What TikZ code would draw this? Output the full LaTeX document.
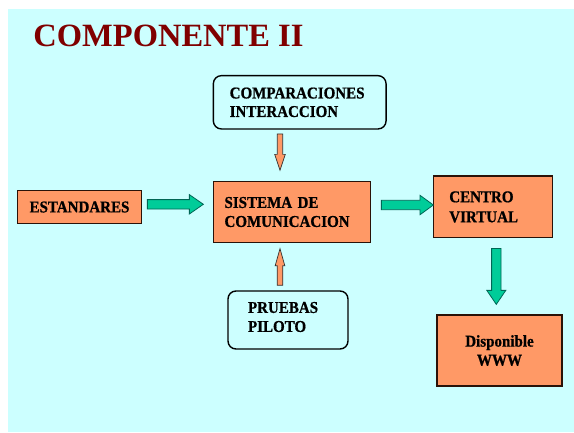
\documentclass[tikz,border=0pt]{standalone}
\usepackage{fontspec}
\setmainfont{Liberation Serif}
\newfontfamily\boxfont[FakeStretch=0.91,FakeBold=0.8]{Liberation Serif}
\usetikzlibrary{calc}
\definecolor{bgcyan}{HTML}{CCFFFF}
\definecolor{boxorange}{HTML}{FF9966}
\definecolor{arrgreen}{HTML}{00CC99}
\definecolor{arredge}{HTML}{006655}
\definecolor{titlered}{HTML}{800000}
\definecolor{boxedge}{HTML}{2A1208}
\newcommand\blockarr[6]{% start, end, shaft half, head half, head length, style
  \draw[#6] ($(#1)!#3pt!90:(#2)$)
    -- ($($(#2)!#5pt!(#1)$)!#3pt!-90:(#1)$)
    -- ($($(#2)!#5pt!(#1)$)!#4pt!-90:(#1)$)
    -- (#2)
    -- ($($(#2)!#5pt!(#1)$)!#4pt!90:(#1)$)
    -- ($($(#2)!#5pt!(#1)$)!#3pt!90:(#1)$)
    -- ($(#1)!#3pt!-90:(#2)$) -- cycle;}
\begin{document}
\begin{tikzpicture}[x=1pt,y=-1pt,
  txt/.style={font=\boxfont\fontsize{16.5}{19}\selectfont\bfseries},
  sqbox/.style={txt,draw=boxedge,line width=1.3pt,fill=boxorange,anchor=center,inner ysep=0pt},
  rbox/.style={txt,draw=black,line width=1.4pt,rounded corners=8pt,fill=bgcyan,anchor=center,inner ysep=0pt},
  greenarr/.style={fill=arrgreen,draw=arredge,line width=0.8pt},
  orangearr/.style={fill=boxorange,draw=black!80,line width=0.7pt}]
\useasboundingbox (0,0) rectangle (574,432);
\fill[white] (0,0) rectangle (574,432);
\fill[bgcyan] (8,9) rectangle (574,432);
\node[font=\fontsize{32.5}{36}\selectfont\bfseries,text=titlered,anchor=base west,inner sep=0pt] (title) at (33.3,46) {COMPONENTE II};
% boxes
\node[rbox,minimum width=172.7pt,minimum height=53.3pt,text width=140pt,align=left,inner xsep=16pt,font=\boxfont\fontsize{16.5}{18.5}\selectfont\bfseries] (comp) at (299.7,102.3) {COMPARACIONES\\INTERACCION};
\node[sqbox,minimum width=124.4pt,minimum height=32.6pt,align=center] (est) at (79.5,207) {ESTANDARES};
\node[sqbox,minimum width=157.4pt,minimum height=60.6pt,text width=135pt,align=left,inner xsep=11pt] (sis) at (292,212) {SISTEMA DE\\COMUNICACION};
\node[sqbox,minimum width=119pt,minimum height=61.7pt,text width=87pt,align=left,inner xsep=16pt,font=\boxfont\fontsize{16.5}{20}\selectfont\bfseries] (cen) at (492.8,206.9) {CENTRO\\VIRTUAL};
\node[rbox,minimum width=120pt,minimum height=58pt,
  label={[txt,text width=80pt,align=left,anchor=center,yshift=3pt,xshift=0pt]center:PRUEBAS\\PILOTO}] (pru) at (288,320) {};
\node[sqbox,minimum width=125pt,minimum height=71pt,align=center] (dis) at (499.5,350.5) {Disponible\\WWW};
% connector endpoints
\coordinate (a1s) at ($(est.east)+(5,-2.7)$);
\coordinate (a1e) at ($(sis.west)+(-9.3,-7.7)$);
\coordinate (a2s) at ($(sis.east)+(10,-7)$);
\coordinate (a2e) at ($(cen.west)+(0.7,-1.9)$);
\coordinate (a3s) at ($(cen.south)+(3.5,10)$);
\coordinate (a3e) at ($(dis.north)+(-3.2,-10)$);
\coordinate (a4s) at ($(comp.south)+(-19.7,4.3)$);
\coordinate (a4e) at ($(sis.north)+(-12,-10.7)$);
\coordinate (a5s) at ($(pru.north)+(-8,-5)$);
\coordinate (a5e) at ($(sis.south)+(-12,5.7)$);
\blockarr{a1s}{a1e}{4.7}{9.7}{14}{greenarr}
\blockarr{a2s}{a2e}{4.7}{9.7}{13.3}{greenarr}
\blockarr{a3s}{a3e}{4.7}{9.5}{14}{greenarr}
\blockarr{a4s}{a4e}{2.7}{5.3}{16}{orangearr}
\blockarr{a5s}{a5e}{2.8}{4.8}{17}{orangearr}
\end{tikzpicture}
\end{document}
